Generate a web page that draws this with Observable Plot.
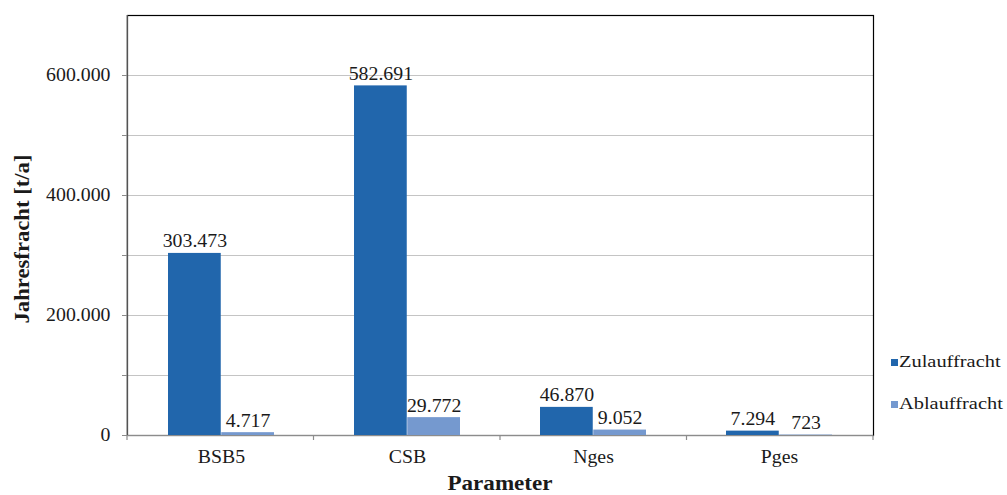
<!DOCTYPE html>
<html><head><meta charset="utf-8">
<script src="https://cdn.jsdelivr.net/npm/d3@7"></script>
<script src="https://cdn.jsdelivr.net/npm/@observablehq/plot@0.6"></script>
<style>
body{margin:0;background:#fff;}
#wrap{position:relative;width:1007px;height:495px;font-family:"Liberation Serif","Times New Roman",serif;color:#1a1a1a;}
#wrap svg{position:absolute;left:0;top:0;}
.title{position:absolute;font-weight:bold;font-size:21px;white-space:nowrap;line-height:1;}
#ytitle{left:22px;top:239px;transform:translate(-50%,-50%) rotate(-90deg) scaleX(1.08);}
#xtitle{left:500px;top:483px;transform:translate(-50%,-50%) scaleX(1.1);}
#legend{position:absolute;left:891px;top:351px;font-size:17px;}
.item{display:flex;align-items:center;height:22px;margin-bottom:20px;white-space:nowrap;}
.sw{width:7px;height:7px;margin-right:1px;display:inline-block;}
.lt{display:inline-block;transform:scaleX(1.2);transform-origin:left center;}
</style></head><body><div id="wrap"></div>
<script>
const categories = ["BSB5", "CSB", "Nges", "Pges"];
const series = ["Zulauffracht", "Ablauffracht"];
const zulauf = [303473, 582691, 46870, 7294];
const ablauf = [4717, 29772, 9052, 723];
const yTickValues = [0, 100000, 200000, 300000, 400000, 500000, 600000];
const yLabelValues = [0, 200000, 400000, 600000];
const yMax = 700000;
const colors = ["#2166ac", "#7599cf"];

const fmt = d3.formatLocale({decimal: ",", thousands: ".", grouping: [3], currency: ["", ""]}).format(",d");

const W = 1007, H = 495, ML = 127, MR = 134, MT = 15, MB = 60;
const bw = (W - ML - MR) / categories.length;
const gap = 40;
const barW = (bw - 2 * gap) / 2;

const zData = categories.map((c, i) => ({cat: c, series: series[0], value: zulauf[i]}));
const aData = categories.map((c, i) => ({cat: c, series: series[1], value: ablauf[i]}));

const labelStyle = {fontSize: 18, fill: "#1a1a1a", lineAnchor: "bottom", dy: -6};

const chart = Plot.plot({
  width: W, height: H,
  marginLeft: ML, marginRight: MR, marginTop: MT, marginBottom: MB,
  style: {fontFamily: "'Liberation Serif', 'Times New Roman', serif", fontSize: "18px", color: "#1a1a1a", background: "transparent"},
  x: {domain: categories, padding: 0, label: null},
  y: {domain: [0, yMax], label: null},
  marks: [
    Plot.gridY(yTickValues.filter(v => v > 0), {stroke: "#c4c4c4", strokeOpacity: 1}),
    Plot.frame({stroke: "#000", strokeWidth: 1.2}),
    Plot.ruleY([0], {stroke: "#8c8c8c", strokeWidth: 1.2}),
    Plot.barY(zData, {x: "cat", y: "value", fill: colors[0], insetLeft: gap, insetRight: gap + barW}),
    Plot.barY(aData, {x: "cat", y: "value", fill: colors[1], insetLeft: gap + barW, insetRight: gap}),
    Plot.text(zData, {x: "cat", y: "value", text: d => fmt(d.value), dx: -barW / 2, ...labelStyle}),
    Plot.text(aData, {x: "cat", y: "value", text: d => fmt(d.value), dx: barW / 2, ...labelStyle}),
    Plot.axisY(yTickValues, {tickSize: 5, tickPadding: 12, stroke: "#8c8c8c", fontSize: 18,
      tickFormat: d => yLabelValues.includes(d) ? fmt(d) : "", label: null}),
    Plot.axisX({tickSize: 0, tickPadding: 15, fontSize: 18, label: null})
  ]
});

// left axis line and category boundary ticks, placed from the x and y scales
const xs = chart.scale("x"), ys = chart.scale("y");
const [r0, r1] = xs.range;
const step = (r1 - r0) / xs.domain.length;
const y0 = ys.range[0], yTop = ys.range[1];
const g = d3.select(chart).append("g").attr("stroke", "#8c8c8c").attr("stroke-width", 1.2);
g.append("line").attr("x1", r0).attr("x2", r0).attr("y1", yTop).attr("y2", y0);
d3.range(xs.domain.length + 1).forEach(i => {
  const x = r0 + i * step;
  g.append("line").attr("x1", x).attr("x2", x).attr("y1", y0).attr("y2", y0 + 5);
});

const wrap = document.getElementById("wrap");
wrap.appendChild(chart);

// the reference's serif text is slightly wide: stretch glyphs a little
d3.select(chart).selectAll("text").each(function() {
  const t = this;
  if (!t.textContent) return;
  const len = t.getComputedTextLength();
  if (len > 0) {
    t.setAttribute("textLength", (len * 1.1).toFixed(1));
    t.setAttribute("lengthAdjust", "spacingAndGlyphs");
  }
});

wrap.insertAdjacentHTML("beforeend", `<div class="title" id="ytitle">Jahresfracht [t/a]</div><div class="title" id="xtitle">Parameter</div>`);
const legend = document.createElement("div");
legend.id = "legend";
series.forEach((s, i) => {
  const item = document.createElement("div");
  item.className = "item";
  item.innerHTML = `<span class="sw" style="background:${colors[i]}"></span><span class="lt">${s}</span>`;
  legend.appendChild(item);
});
wrap.appendChild(legend);
</script></body></html>
